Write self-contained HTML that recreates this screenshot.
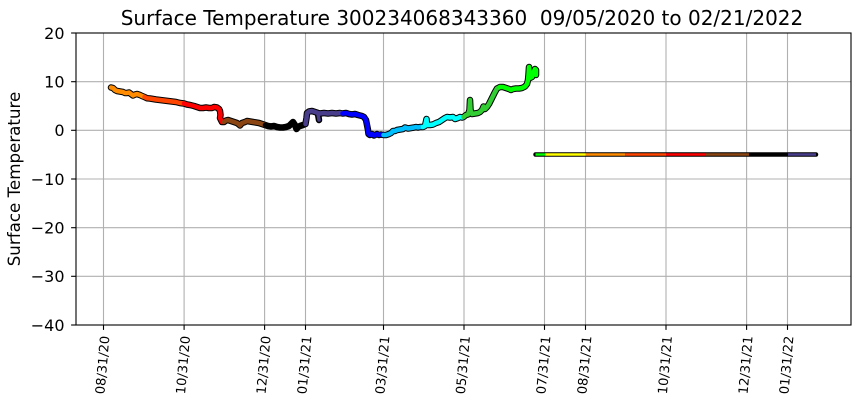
<!DOCTYPE html>
<html>
<head>
<meta charset="utf-8">
<style>
  html, body { margin: 0; padding: 0; background: #ffffff; }
  body { width: 860px; height: 408px; overflow: hidden; }
  svg { display: block; }
  text { font-family: "DejaVu Sans", "Liberation Sans", sans-serif; fill: #000; }
</style>
</head>
<body>
<svg width="860" height="408" viewBox="0 0 860 408" xmlns="http://www.w3.org/2000/svg">
  <rect x="0" y="0" width="860" height="408" fill="#ffffff"/>

  <!-- grid -->
  <g stroke="#b0b0b0" stroke-width="1.1" fill="none">
    <line x1="103.5" y1="33" x2="103.5" y2="325"/>
    <line x1="184.1" y1="33" x2="184.1" y2="325"/>
    <line x1="264.6" y1="33" x2="264.6" y2="325"/>
    <line x1="305.5" y1="33" x2="305.5" y2="325"/>
    <line x1="383.5" y1="33" x2="383.5" y2="325"/>
    <line x1="464.0" y1="33" x2="464.0" y2="325"/>
    <line x1="544.5" y1="33" x2="544.5" y2="325"/>
    <line x1="585.5" y1="33" x2="585.5" y2="325"/>
    <line x1="666.0" y1="33" x2="666.0" y2="325"/>
    <line x1="746.6" y1="33" x2="746.6" y2="325"/>
    <line x1="787.5" y1="33" x2="787.5" y2="325"/>

    <line x1="76" y1="81.7" x2="851" y2="81.7"/>
    <line x1="76" y1="130.3" x2="851" y2="130.3"/>
    <line x1="76" y1="179.0" x2="851" y2="179.0"/>
    <line x1="76" y1="227.7" x2="851" y2="227.7"/>
    <line x1="76" y1="276.3" x2="851" y2="276.3"/>
  </g>

  <!-- main curve: black outline -->
  <g fill="none" stroke="#000" stroke-width="6.5" stroke-linecap="round" stroke-linejoin="round">
    <polyline points="111,87.5 113,88 115,90 117,91 120,91.5 123,92 125,93 127,93 129,92.5 131,94 133,95.5 135,94.5 137,94 140,95 142,96 144.5,97 147,98.3 150,98.5 153,99 156,99.5 160,100 164,100.5 168,101 172,101.5 176,102 180,103 184,103.5 187,104.5 190,105 194,106 197,107 200,108 203,108 206,107.5 209,108 212,108 214,107 217,107.5 219,109 220,111 220.5,115 220,118 221,120 222,122 224,122 226,120.5 228,120 231,121 234,122 237,123 239,124.5 240,125.5 242,123 245,122 247,121 250,121.5 253,122 256,122.5 259,123 262,124 265,125 268,126 271,126.5 274,126 277,127 280,127.5 283,127.5 286,127 289,126 291,124 293,122 295,125 296.5,129 298,127 300,126 303,125 305.5,124 306.5,118 307,113 309,111.5 312,111 315,112 318,113 320,113.5 324,113 328,113.5 332,113 336,113.5 340,113 342.5,113.5 346,113 349,114 352,114.5 355,114 358,115 362,116 364,117 366,120 367,125 368,130 368.5,134 370,135 372,134 374,135.5 377,134 379,135 381,134.5 383.5,135 386,135 389,134 391,133 393,131 395,131 397,130 400,129.5 403,129 405,127.5 408,128.5 411,128 414,127.5 416,127 418,127.5 420,127 423,127 425,126 426.5,119 427,125 430,125 433,124.5 436,123 439,122 442,120 445,118 447,117 450,117.5 453,117 455,119 458,118 460,117 462,117.5 463.5,117 466,115 468,114.5 469.5,110 470,100 470.5,110 472,114 475,113.5 478,113 480,112 482,110 483.5,106.5 485,109 487,107 489,104 491,100 493,96 495,92 497,88.5 500,87 503,87 506,88 509,89 511,90 513,89 516,88.5 519,88.5 522,88 525,86.5 527,84 528,80 528.5,75 529,67 529.5,72 530,78 532,77 533,74 534,71 535,69 536,70 536,75"/>
    <polyline points="318,114 319,120"/>
    <!-- -5 line outline -->
    <line x1="535.5" y1="154.5" x2="816" y2="154.5" stroke-width="4.5"/>
  </g>

  <!-- main curve: colored segments -->
  <g fill="none" stroke-width="4.5" stroke-linecap="round" stroke-linejoin="round">
    <polyline stroke="#FF8C00" points="111,87.5 113,88 115,90 117,91 120,91.5 123,92 125,93 127,93 129,92.5 131,94 133,95.5 135,94.5 137,94 140,95 142,96 144.5,97"/>
    <polyline stroke="#FF4500" points="144.5,97 147,98.3 150,98.5 153,99 156,99.5 160,100 164,100.5 168,101 172,101.5 176,102 180,103 184,103.5"/>
    <polyline stroke="#FF0000" points="184,103.5 187,104.5 190,105 194,106 197,107 200,108 203,108 206,107.5 209,108 212,108 214,107 217,107.5 219,109 220,111 220.5,115 220,118 221,120 222,122"/>
    <polyline stroke="#8B4513" points="224,122 226,120.5 228,120 231,121 234,122 237,123 239,124.5 240,125.5 242,123 245,122 247,121 250,121.5 253,122 256,122.5 259,123 262,124 265,125"/>
    <polyline stroke="#000000" points="265,125 268,126 271,126.5 274,126 277,127 280,127.5 283,127.5 286,127 289,126 291,124 293,122 295,125 296.5,129 298,127 300,126 303,125 305.5,124"/>
    <polyline stroke="#483D8B" points="305.5,124 306.5,118 307,113 309,111.5 312,111 315,112 318,113 320,113.5 324,113 328,113.5 332,113 336,113.5 340,113 342.5,113.5"/>
    <polyline stroke="#483D8B" stroke-width="3.5" points="318,114 319,120"/>
    <polyline stroke="#0000FF" points="342.5,113.5 346,113 349,114 352,114.5 355,114 358,115 362,116 364,117 366,120 367,125 368,130 368.5,134 370,135 372,134 374,135.5 377,134 379,135 381,134.5 383.5,135"/>
    <polyline stroke="#00BFFF" points="383.5,135 386,135 389,134 391,133 393,131 395,131 397,130 400,129.5 403,129 405,127.5 408,128.5 411,128 414,127.5 416,127 418,127.5 420,127 423,127"/>
    <polyline stroke="#00FFFF" points="423,127 425,126 426.5,119 427,125 430,125 433,124.5 436,123 439,122 442,120 445,118 447,117 450,117.5 453,117 455,119 458,118 460,117 462,117.5 463.5,117"/>
    <polyline stroke="#32CD32" points="463.5,117 466,115 468,114.5 469.5,110 470,100 470.5,110 472,114 475,113.5 478,113 480,112 482,110 483.5,106.5 485,109 487,107 489,104 491,100 493,96 495,92 497,88.5 500,87"/>
    <polyline stroke="#00FF00" points="500,87 503,87 506,88 509,89 511,90 513,89 516,88.5 519,88.5 522,88 525,86.5 527,84 528,80 528.5,75 529,67 529.5,72 530,78 532,77 533,74 534,71 535,69 536,70 536,75"/>
  </g>

  <!-- -5 line colored segments -->
  <g fill="none" stroke-width="2.4">
    <line x1="535.5" y1="154.5" x2="545.2" y2="154.5" stroke="#00FF00"/>
    <line x1="545.2" y1="154.5" x2="585.5" y2="154.5" stroke="#FFFF00"/>
    <line x1="585.5" y1="154.5" x2="625.1" y2="154.5" stroke="#FF8C00"/>
    <line x1="625.1" y1="154.5" x2="666.0" y2="154.5" stroke="#FF4500"/>
    <line x1="666.0" y1="154.5" x2="706.0" y2="154.5" stroke="#FF0000"/>
    <line x1="706.0" y1="154.5" x2="749.0" y2="154.5" stroke="#8B4513"/>
    <line x1="749.0" y1="154.5" x2="788.0" y2="154.5" stroke="#000000"/>
    <line x1="788.0" y1="154.5" x2="816" y2="154.5" stroke="#483D8B"/>
  </g>

  <!-- spines -->
  <rect x="76" y="33" width="775" height="292" fill="none" stroke="#000" stroke-width="1.1"/>

  <!-- ticks -->
  <g stroke="#000" stroke-width="1.1">
    <line x1="71.1" y1="33" x2="76" y2="33"/>
    <line x1="71.1" y1="81.7" x2="76" y2="81.7"/>
    <line x1="71.1" y1="130.3" x2="76" y2="130.3"/>
    <line x1="71.1" y1="179.0" x2="76" y2="179.0"/>
    <line x1="71.1" y1="227.7" x2="76" y2="227.7"/>
    <line x1="71.1" y1="276.3" x2="76" y2="276.3"/>
    <line x1="71.1" y1="325" x2="76" y2="325"/>

    <line x1="103.5" y1="325" x2="103.5" y2="329.9"/>
    <line x1="184.1" y1="325" x2="184.1" y2="329.9"/>
    <line x1="264.6" y1="325" x2="264.6" y2="329.9"/>
    <line x1="305.5" y1="325" x2="305.5" y2="329.9"/>
    <line x1="383.5" y1="325" x2="383.5" y2="329.9"/>
    <line x1="464.0" y1="325" x2="464.0" y2="329.9"/>
    <line x1="544.5" y1="325" x2="544.5" y2="329.9"/>
    <line x1="585.5" y1="325" x2="585.5" y2="329.9"/>
    <line x1="666.0" y1="325" x2="666.0" y2="329.9"/>
    <line x1="746.6" y1="325" x2="746.6" y2="329.9"/>
    <line x1="787.5" y1="325" x2="787.5" y2="329.9"/>
  </g>

  <!-- y tick labels -->
  <g font-size="16" text-anchor="end">
    <text x="64.5" y="38.8">20</text>
    <text x="64.5" y="87.5">10</text>
    <text x="64.5" y="136.1">0</text>
    <text x="64.5" y="184.8">−10</text>
    <text x="64.5" y="233.5">−20</text>
    <text x="64.5" y="282.1">−30</text>
    <text x="64.5" y="330.8">−40</text>
  </g>

  <!-- x tick labels (rotated 85deg) -->
  <g font-size="13" text-anchor="end" dominant-baseline="central">
    <text transform="translate(106,336) rotate(-85)">08/31/20</text>
    <text transform="translate(186.6,336) rotate(-85)">10/31/20</text>
    <text transform="translate(267.1,336) rotate(-85)">12/31/20</text>
    <text transform="translate(308,336) rotate(-85)">01/31/21</text>
    <text transform="translate(386,336) rotate(-85)">03/31/21</text>
    <text transform="translate(466.5,336) rotate(-85)">05/31/21</text>
    <text transform="translate(547,336) rotate(-85)">07/31/21</text>
    <text transform="translate(588,336) rotate(-85)">08/31/21</text>
    <text transform="translate(668.5,336) rotate(-85)">10/31/21</text>
    <text transform="translate(749.1,336) rotate(-85)">12/31/21</text>
    <text transform="translate(790,336) rotate(-85)">01/31/22</text>
  </g>

  <!-- y axis label -->
  <text font-size="16.7" text-anchor="middle" transform="translate(20,179) rotate(-90)">Surface Temperature</text>

  <!-- title -->
  <text x="462" y="25" font-size="20" text-anchor="middle" xml:space="preserve" style="white-space:pre">Surface Temperature 300234068343360  09/05/2020 to 02/21/2022</text>
</svg>
</body>
</html>
